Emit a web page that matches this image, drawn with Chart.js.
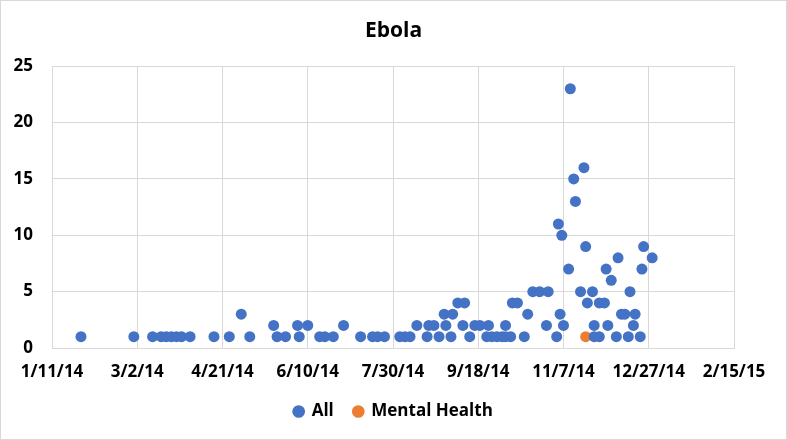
<!DOCTYPE html>
<html>
<head>
<meta charset="utf-8">
<script src="https://cdn.jsdelivr.net/npm/chart.js@4"></script>
<style>
	html, body { margin: 0; padding: 0; background: #fff; }
	#wrap { width: 785px; height: 438px; border: 1px solid #d9d9d9; }
</style>
</head>
<body>
<div id="wrap"><canvas id="EbolaChart" width="785" height="438"></canvas></div>
<script>
// x axis starts here, ticks every 50 days
const startDate = '2014-01-11'
const tickStep = 50
const tickCount = 8

// All: dates and counts
const allDates = [
	'2014-01-28', '2014-02-28', '2014-03-11', '2014-03-16', '2014-03-19', '2014-03-22', '2014-03-25', '2014-03-28',
	'2014-04-02', '2014-04-16', '2014-04-25', '2014-05-07', '2014-05-23', '2014-05-28', '2014-06-05', '2014-06-17',
	'2014-06-20', '2014-06-25', '2014-07-11', '2014-07-18', '2014-07-21', '2014-07-25', '2014-08-03', '2014-08-06',
	'2014-08-09', '2014-08-19', '2014-08-26', '2014-09-02', '2014-09-13', '2014-09-23', '2014-09-26', '2014-09-29',
	'2014-10-02', '2014-10-04', '2014-10-07', '2014-10-15', '2014-11-03', '2014-11-25', '2014-11-28', '2014-12-08',
	'2014-12-15', '2014-12-22',
	'2014-05-21', '2014-06-04', '2014-06-10', '2014-07-01', '2014-08-13', '2014-08-20', '2014-08-23', '2014-08-30',
	'2014-09-09', '2014-09-16', '2014-09-19', '2014-09-24', '2014-10-04', '2014-10-28', '2014-11-07', '2014-11-25',
	'2014-12-03', '2014-12-18',
	'2014-05-02', '2014-08-29', '2014-09-03', '2014-10-17', '2014-11-05', '2014-12-11', '2014-12-13', '2014-12-19',
	'2014-09-06', '2014-09-10', '2014-10-08', '2014-10-11', '2014-11-21', '2014-11-28', '2014-12-01',
	'2014-10-20', '2014-10-24', '2014-10-29', '2014-11-17', '2014-11-24', '2014-12-16',
	'2014-12-05',
	'2014-11-10', '2014-12-02', '2014-12-23',
	'2014-12-09', '2014-12-29',
	'2014-11-20', '2014-12-24',
	'2014-11-06', '2014-11-04', '2014-11-14', '2014-11-13', '2014-11-19', '2014-11-11'
]
const allCounts = [
	1, 1, 1, 1, 1, 1, 1, 1,
	1, 1, 1, 1, 1, 1, 1, 1,
	1, 1, 1, 1, 1, 1, 1, 1,
	1, 1, 1, 1, 1, 1, 1, 1,
	1, 1, 1, 1, 1, 1, 1, 1,
	1, 1,
	2, 2, 2, 2, 2, 2, 2, 2,
	2, 2, 2, 2, 2, 2, 2, 2,
	2, 2,
	3, 3, 3, 3, 3, 3, 3, 3,
	4, 4, 4, 4, 4, 4, 4,
	5, 5, 5, 5, 5, 5,
	6,
	7, 7, 7,
	8, 8,
	9, 9,
	10, 11, 13, 15, 16, 23
]

// Mental Health
const mentalDates = ['2014-11-20']
const mentalCounts = [1]

const dayOf = function (d) {
	return Math.round((Date.parse(d) - Date.parse(startDate)) / 86400000)
}

const toPoints = function (dates, counts) {
	let pts = []
	dates.forEach((d, i) => {
		pts.push({ x: dayOf(d), y: counts[i] })
	});
	return pts
}

const dayLabel = function (n) {
	const dt = new Date(Date.parse(startDate) + n * 86400000)
	return (dt.getUTCMonth() + 1) + '/' + dt.getUTCDate() + '/' + String(dt.getUTCFullYear()).slice(2)
}

const font = "'Open Sans', 'DejaVu Sans', sans-serif"
const grid = '#d9d9d9'

const data = {
	datasets: [{
		label: 'All',
		data: toPoints(allDates, allCounts),
		backgroundColor: '#4472C4',
		borderColor: '#4472C4',
		pointRadius: 5.5,
		pointHoverRadius: 5.5,
		borderWidth: 0
	}, {
		label: 'Mental Health',
		data: toPoints(mentalDates, mentalCounts),
		backgroundColor: '#ED7D31',
		borderColor: '#ED7D31',
		pointRadius: 5.5,
		pointHoverRadius: 5.5,
		borderWidth: 0
	}]
};

const config = {
	type: 'scatter',
	data: data,
	options: {
		responsive: false,
		animation: false,
		layout: { padding: { top: 17, left: 0, right: 0, bottom: 9 } },
		plugins: {
			title: {
				display: true,
				text: 'Ebola',
				color: '#000',
				font: { family: font, size: 21, weight: 'bold' },
				padding: { top: 0, bottom: 23 }
			},
			legend: {
				position: 'bottom',
				labels: {
					usePointStyle: true,
					pointStyle: 'circle',
					boxWidth: 9,
					boxHeight: 9,
					padding: 20,
					color: '#000',
					font: { family: font, size: 17, weight: 'bold' }
				}
			},
			tooltip: { enabled: false }
		},
		scales: {
			x: {
				type: 'linear',
				min: 0,
				max: tickStep * tickCount,
				afterFit: function (scale) {
					scale.height = 35
					scale.paddingRight = 52
				},
				ticks: {
					stepSize: tickStep,
					color: '#000',
					padding: 14,
					maxRotation: 0,
					font: { family: font, size: 17, weight: 'bold' },
					callback: function (v) { return dayLabel(v) }
				},
				grid: { color: grid, drawTicks: false },
				border: { color: grid }
			},
			y: {
				min: 0,
				max: 25,
				afterFit: function (scale) { scale.width = 51 },
				ticks: {
					stepSize: 5,
					color: '#000',
					padding: 19,
					font: { family: font, size: 17, weight: 'bold' }
				},
				grid: { color: grid, drawTicks: false },
				border: { color: grid }
			}
		}
	}
};

const EbolaChart = new Chart(
	document.getElementById('EbolaChart'),
	config
);
</script>
</body>
</html>
